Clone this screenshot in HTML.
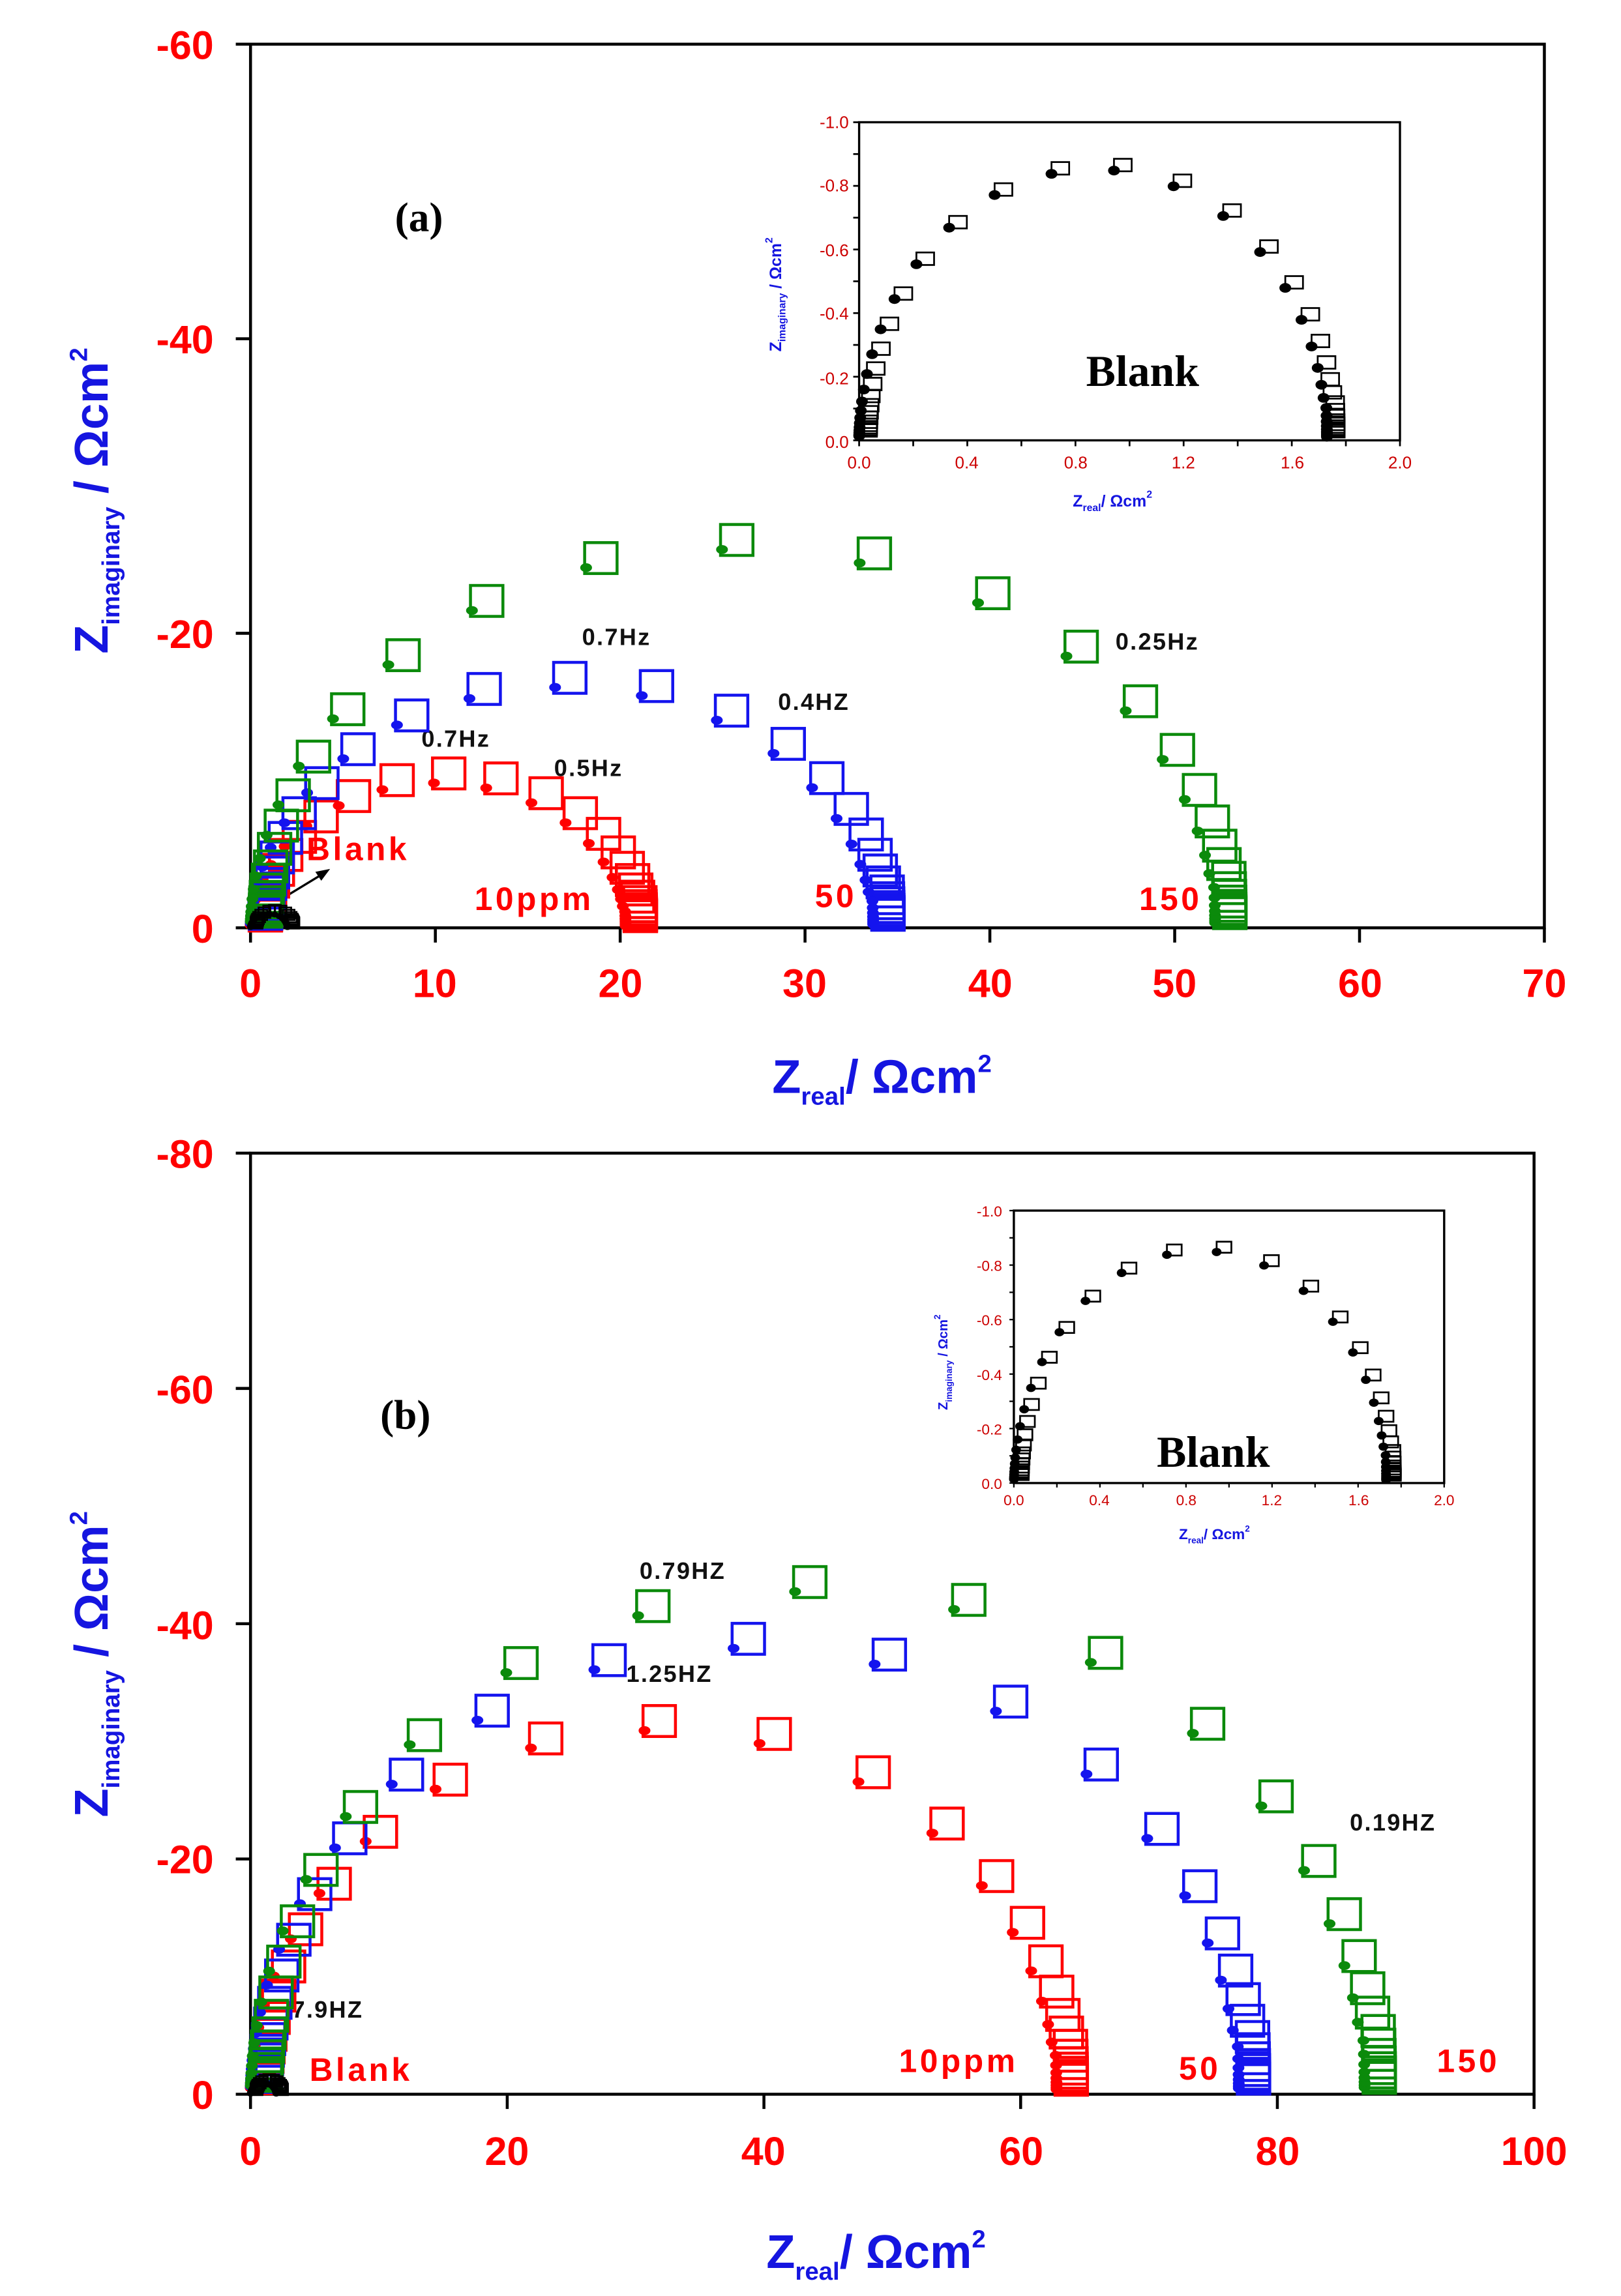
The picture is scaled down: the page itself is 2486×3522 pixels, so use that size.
<!DOCTYPE html>
<html><head><meta charset="utf-8"><style>
html,body{margin:0;padding:0;background:#fff}
svg{display:block}
.tl{font-family:"Liberation Sans",sans-serif;font-weight:bold;fill:#f00;font-size:27px}
.it{font-family:"Liberation Sans",sans-serif;fill:#c00;font-size:11.5px}
.fq{font-family:"Liberation Sans",sans-serif;font-weight:bold;fill:#111;font-size:16px;letter-spacing:1px}
.rl{font-family:"Liberation Sans",sans-serif;font-weight:bold;fill:#f00;font-size:22px;letter-spacing:2px}
.bt{font-family:"Liberation Sans",sans-serif;font-weight:bold;fill:#1515e0}
.sf{font-family:"Liberation Serif",serif;font-weight:bold;fill:#000}
</style></head><body>
<svg id="s" xmlns="http://www.w3.org/2000/svg" width="2486" height="3522" viewBox="0 0 1100 1559" preserveAspectRatio="none">
<rect width="1100" height="1559" fill="#fff"/>
<rect x="170" y="30" width="878" height="600" fill="none" stroke="#000" stroke-width="2"/>
<g class="tl" text-anchor="end">
<text x="145" y="40">-60</text><text x="145" y="240">-40</text><text x="145" y="440">-20</text><text x="145" y="640">0</text>
</g>
<g class="tl" text-anchor="middle">
<text x="170" y="677">0</text><text x="295" y="677">10</text><text x="421" y="677">20</text><text x="546" y="677">30</text><text x="672" y="677">40</text><text x="797" y="677">50</text><text x="923" y="677">60</text><text x="1048" y="677">70</text>
</g>
<text class="bt" font-size="32" transform="translate(73,340) rotate(-90)" text-anchor="middle">Z<tspan font-size="17" dy="8">imaginary</tspan><tspan dy="-8"> / Ωcm</tspan><tspan font-size="17" dy="-14">2</tspan></text>
<text class="bt" font-size="32" x="524" y="742">Z<tspan font-size="17" dy="8">real</tspan><tspan dy="-8">/ Ωcm</tspan><tspan font-size="17" dy="-14">2</tspan></text>
<text class="sf" font-size="28" x="268" y="157">(a)</text>
<text class="fq" x="395" y="438">0.7Hz</text>
<text class="fq" x="528" y="482">0.4HZ</text>
<text class="fq" x="757" y="441">0.25Hz</text>
<text class="fq" x="286" y="507">0.7Hz</text>
<text class="fq" x="376" y="527">0.5Hz</text>
<text class="rl" x="208" y="584">Blank</text>
<text class="rl" x="322" y="618">10ppm</text>
<text class="rl" x="553" y="616">50</text>
<text class="rl" x="773" y="618">150</text>
<line x1="195" y1="608" x2="218" y2="594" stroke="#000" stroke-width="1.5"/>
<polygon points="224,590 214,592 218,598" fill="#000"/>
<rect x="583" y="83" width="367" height="216" fill="#fff" stroke="#000" stroke-width="1.5"/>
<g class="it" text-anchor="end">
<text x="576" y="87">-1.0</text><text x="576" y="130">-0.8</text><text x="576" y="174">-0.6</text><text x="576" y="217">-0.4</text><text x="576" y="261">-0.2</text><text x="576" y="304">0.0</text>
</g>
<g class="it" text-anchor="middle">
<text x="583" y="318">0.0</text><text x="656" y="318">0.4</text><text x="730" y="318">0.8</text><text x="803" y="318">1.2</text><text x="877" y="318">1.6</text><text x="950" y="318">2.0</text>
</g>
<text class="bt" font-size="11" transform="translate(530,200) rotate(-90)" text-anchor="middle">Z<tspan font-size="7" dy="3">imaginary</tspan><tspan dy="-3"> / Ωcm</tspan><tspan font-size="7" dy="-6">2</tspan></text>
<text class="bt" font-size="11" x="728" y="344">Z<tspan font-size="7" dy="3">real</tspan><tspan dy="-3">/ Ωcm</tspan><tspan font-size="7" dy="-6">2</tspan></text>
<text class="sf" font-size="30" x="737" y="262">Blank</text>

<rect x="170" y="783" width="871" height="639" fill="none" stroke="#000" stroke-width="2"/>
<g class="tl" text-anchor="end">
<text x="145" y="793">-80</text><text x="145" y="953">-60</text><text x="145" y="1113">-40</text><text x="145" y="1272">-20</text><text x="145" y="1432">0</text>
</g>
<g class="tl" text-anchor="middle">
<text x="170" y="1470">0</text><text x="344" y="1470">20</text><text x="518" y="1470">40</text><text x="693" y="1470">60</text><text x="867" y="1470">80</text><text x="1041" y="1470">100</text>
</g>
<text class="bt" font-size="32" transform="translate(73,1130) rotate(-90)" text-anchor="middle">Z<tspan font-size="17" dy="8">imaginary</tspan><tspan dy="-8"> / Ωcm</tspan><tspan font-size="17" dy="-14">2</tspan></text>
<text class="bt" font-size="32" x="520" y="1540">Z<tspan font-size="17" dy="8">real</tspan><tspan dy="-8">/ Ωcm</tspan><tspan font-size="17" dy="-14">2</tspan></text>
<text class="sf" font-size="28" x="258" y="970">(b)</text>
<text class="fq" x="434" y="1072">0.79HZ</text>
<text class="fq" x="425" y="1142">1.25HZ</text>
<text class="fq" x="916" y="1243">0.19HZ</text>
<text class="fq" x="198" y="1370">7.9HZ</text>
<text class="rl" x="210" y="1413">Blank</text>
<text class="rl" x="610" y="1407">10ppm</text>
<text class="rl" x="800" y="1412">50</text>
<text class="rl" x="975" y="1407">150</text>
<rect x="688" y="822" width="292" height="185" fill="#fff" stroke="#000" stroke-width="1.5"/>
<g class="it" text-anchor="end" style="font-size:10px">
<text x="680" y="826">-1.0</text><text x="680" y="863">-0.8</text><text x="680" y="900">-0.6</text><text x="680" y="937">-0.4</text><text x="680" y="974">-0.2</text><text x="680" y="1011">0.0</text>
</g>
<g class="it" text-anchor="middle" style="font-size:10px">
<text x="688" y="1022">0.0</text><text x="746" y="1022">0.4</text><text x="805" y="1022">0.8</text><text x="863" y="1022">1.2</text><text x="922" y="1022">1.6</text><text x="980" y="1022">2.0</text>
</g>
<text class="bt" font-size="9" transform="translate(643,925) rotate(-90)" text-anchor="middle">Z<tspan font-size="6" dy="3">imaginary</tspan><tspan dy="-3"> / Ωcm</tspan><tspan font-size="6" dy="-5">2</tspan></text>
<text class="bt" font-size="10" x="800" y="1045">Z<tspan font-size="6" dy="3">real</tspan><tspan dy="-3">/ Ωcm</tspan><tspan font-size="6" dy="-5">2</tspan></text>
<text class="sf" font-size="30" x="785" y="996">Blank</text>
<g id="d"></g>
</svg>
<script>
(function(){
var g=document.getElementById('d'),NS='http://www.w3.org/2000/svg';
function el(t,a){var e=document.createElementNS(NS,t);for(var k in a)e.setAttribute(k,a[k]);g.appendChild(e);}
function Z(R,w,n){var c=Math.cos(n*Math.PI/2),s=Math.sin(n*Math.PI/2),p=Math.pow(w,n),a=1+p*c,b=p*s,d=a*a+b*b;return [R*a/d,R*b/d];}
function ticks(x0,y0,x1,y1,nx,ny,len,sw){
 for(var i=0;i<=nx;i++){var x=x0+(x1-x0)*i/nx;el('line',{x1:x,y1:y0,x2:x,y2:y0+len,stroke:'#000','stroke-width':sw});}
 for(var j=0;j<=ny;j++){var y=y0-(y0-y1)*j/ny;el('line',{x1:x0,y1:y,x2:x0-len,y2:y,stroke:'#000','stroke-width':sw});}
}
ticks(170,630,1048,30,7,3,10,2);
ticks(170,1422,1041,783,5,4,10,2);
ticks(583,299,950,83,10,10,4,1.2);
ticks(688,1007,980,822,10,10,3,1);
function series(f,R,col,sq,rx,ry,ks,ke,st,n){
 var pts=[];
 for(var k=ks;k<=ke+1e-9;k+=st){
  var w=Math.pow(10,k);
  var p=Z(R,w,n);
  // steep tail at low frequency
  if(k<-1.2){p[0]=R+(p[0]-R)*0.3;}
  pts.push([f[0]+p[0]*f[2],f[1]-p[1]*f[3]]);
 }
 pts.forEach(function(q){el('rect',{x:q[0]+sq[2],y:q[1]+sq[3],width:sq[0],height:sq[1],fill:'none',stroke:col,'stroke-width':sq[0]>15?2:1.2});});
 pts.forEach(function(q){el('ellipse',{cx:q[0],cy:q[1],rx:rx,ry:ry,fill:col});});
}
var RD='#f00',BL='#1414ee',GR='#0b8a0b';
var big=[22,21,-1,-17];
var A=[170,630,12.54,10];
series(A,20.3,RD,big,4,3,-2.2,2.2,0.13,0.98);
series(A,33.7,BL,big,4,3,-2.2,2.2,0.13,0.98);
series(A,52.2,GR,big,4,3,-2.2,2.2,0.13,0.99);
series(A,2.0,'#000',[8,7,0,-6],2.5,2,-1.65,1.65,0.15,0.97);
var AI=[583,299,183.5,216];
series(AI,1.73,'#000',[12,8.5,0,-8],4,3.3,-2.2,2.2,0.12,0.99);
var B=[170,1422,8.71,7.99];
series(B,62.8,RD,big,4,3,-2.2,2.2,0.13,0.99);
series(B,77,BL,big,4,3,-2.2,2.2,0.13,0.99);
series(B,86.8,GR,big,4,3,-2.2,2.2,0.13,0.99);
series(B,2.0,'#000',[8,7,0,-6],2.5,2,-1.65,1.65,0.15,0.97);
var BI=[688,1007,146,185];
series(BI,1.73,'#000',[10,7.5,0,-7],3.3,2.8,-2.2,2.2,0.12,0.99);
})();
</script>
</body></html>
